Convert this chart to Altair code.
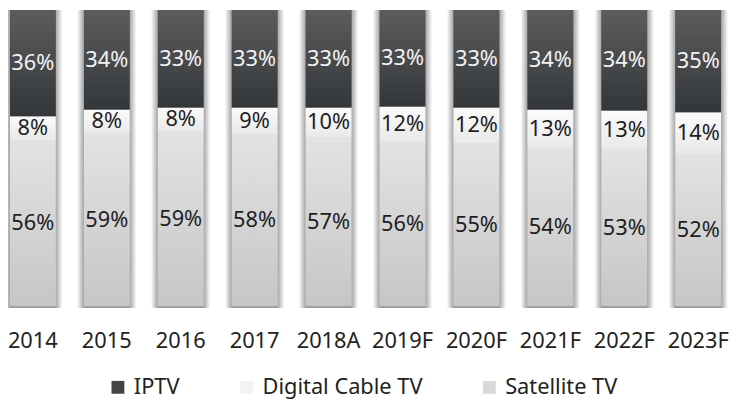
import altair as alt
import pandas as pd

years = ["2014", "2015", "2016", "2017", "2018A", "2019F", "2020F", "2021F", "2022F", "2023F"]
series = ["IPTV", "Digital Cable TV", "Satellite TV"]
iptv = [36, 34, 33, 33, 33, 33, 33, 34, 34, 35]
cable = [8, 8, 8, 9, 10, 12, 12, 13, 13, 14]
satellite = [56, 59, 59, 58, 57, 56, 55, 54, 53, 52]
legend_colors = ["#424446", "#f3f3f3", "#d9d9d9"]

rows = []
for i, yr in enumerate(years):
    for s, vals, order in [("Satellite TV", satellite, 0), ("Digital Cable TV", cable, 1), ("IPTV", iptv, 2)]:
        rows.append({"year": yr, "series": s, "value": vals[i], "order": order})
df = pd.DataFrame(rows)

FONT = "Noto Sans"
FS = 22


def vgrad(c0, c1):
    return alt.LinearGradient(
        gradient="linear", x1=0, y1=0, x2=0, y2=1,
        stops=[alt.GradientStop(color=c0, offset=0), alt.GradientStop(color=c1, offset=1)],
    )


x_enc = alt.X(
    "year:N", sort=years,
    scale=alt.Scale(paddingInner=0.383, paddingOuter=0.027),
    axis=alt.Axis(title=None, domain=False, ticks=False, labelAngle=0, labelFontSize=FS,
                  labelFont=FONT, labelColor="#222222", labelPadding=25),
)
y_scale = alt.Scale(domain=[0, 1])

base = alt.Chart(df).transform_stack(
    stack="value", groupby=["year"], as_=["y0", "y1"], offset="normalize",
    sort=[alt.SortField(field="order", order="ascending")],
).transform_calculate(mid="(datum.y0 + datum.y1) / 2", label="datum.value + '%'")

shadow_grad = alt.LinearGradient(
    gradient="linear", x1=0, y1=0, x2=1, y2=0,
    stops=[
        alt.GradientStop(color="#ffffff", offset=0),
        alt.GradientStop(color="#a0a0a0", offset=0.12),
        alt.GradientStop(color="#a0a0a0", offset=0.88),
        alt.GradientStop(color="#ffffff", offset=1),
    ],
)
shadow = base.transform_filter(alt.datum.series == "IPTV").transform_calculate(lo="0").mark_bar(
    size=60, fill=shadow_grad, yOffset=2
).encode(x=x_enc, y=alt.Y("lo:Q", scale=y_scale, axis=None), y2="y1:Q")

solid = base.mark_bar(size=46).encode(
    x=x_enc,
    y=alt.Y("y0:Q", scale=y_scale, axis=None), y2="y1:Q",
    color=alt.Color("series:N", scale=alt.Scale(domain=series, range=legend_colors),
                    legend=alt.Legend(title=None, orient="none", legendX=100, legendY=370,
                                      direction="horizontal", symbolType="square", symbolSize=169,
                                      symbolStrokeWidth=0, labelFontSize=FS, labelFont=FONT,
                                      labelColor="#222222", columnPadding=56, labelOffset=5,
                                      labelLimit=400, padding=0)),
)

grads = {
    "IPTV": vgrad("#5c5c5c", "#33373a"),
    "Digital Cable TV": vgrad("#fbfbfb", "#e9e9e9"),
    "Satellite TV": vgrad("#e3e3e3", "#c6c6c6"),
}
glayers = []
for s in series:
    glayers.append(
        base.transform_filter(alt.datum.series == s).mark_bar(size=46, fill=grads[s]).encode(
            x=x_enc, y=alt.Y("y0:Q", scale=y_scale, axis=None), y2="y1:Q"
        )
    )

labels = base.mark_text(fontSize=FS, font=FONT).encode(
    x=x_enc,
    y=alt.Y("mid:Q", scale=y_scale, axis=None),
    text=alt.Text("label:N"),
    color=alt.condition(alt.datum.series == "IPTV", alt.value("#f2f2f2"), alt.value("#1e1e1e")),
)

chart = alt.layer(shadow, solid, *glayers, labels).properties(
    width=722, height=299, padding={"left": 0, "top": 0, "right": 6, "bottom": 112}, autosize="none"
).configure_view(stroke=None)

chart.save("out.html", embed_options={"renderer": "svg", "actions": False})
